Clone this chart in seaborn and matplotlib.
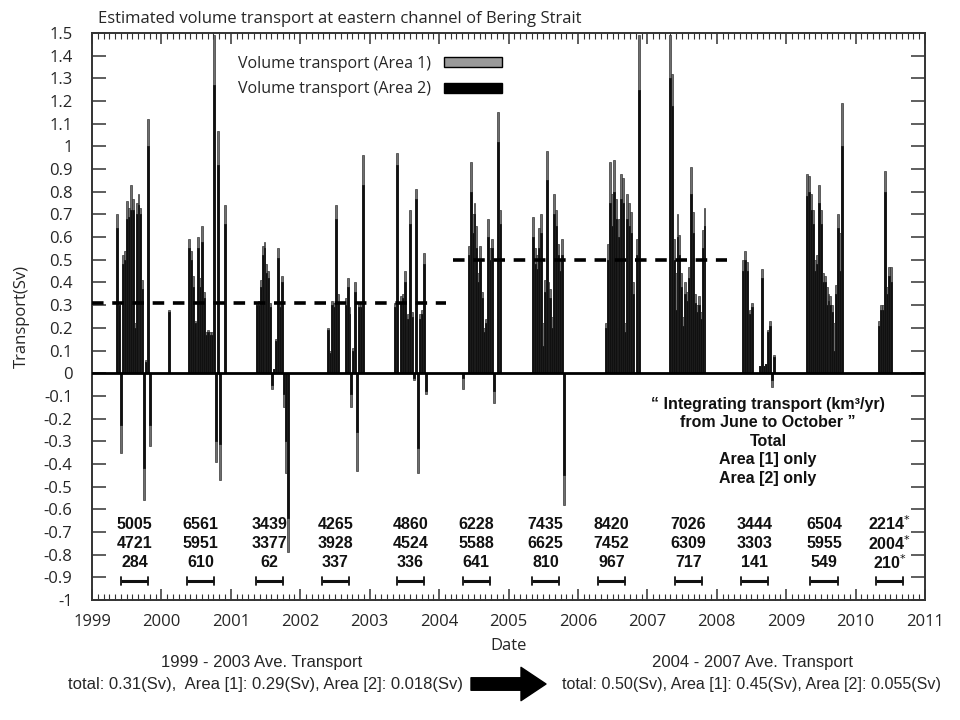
import numpy as np
import pandas as pd
import matplotlib
matplotlib.use("Agg")
import matplotlib.pyplot as plt
import seaborn as sns
from matplotlib.ticker import MultipleLocator, FuncFormatter
from matplotlib.patches import Patch

# ---------------- data ----------------
season_start = [1999.35, 2000.09, 2000.38, 2001.36, 2002.39, 2003.35, 2004.33,
                2005.34, 2006.39, 2007.31, 2008.36, 2009.29, 2010.33]
slot_years = 1 / 36  # sampling interval of the transport series (years)

total_1999 = [0.70, 0.31, -0.35, 0.52, 0.54, 0.76, 0.73, 0.83, 0.77, 0.22, 0.75, 0.79, 0.73, 0.41, -0.56, 0.06, 1.12, -0.32]
dark_1999 = [0.64, 0.30, -0.23, 0.48, 0.50, 0.68, 0.69, 0.72, 0.72, 0.20, 0.70, 0.74, 0.70, 0.37, -0.42, 0.05, 1.00, -0.23]
total_2000a = [0.28]
dark_2000a = [0.27]
total_2000 = [0.59, 0.54, 0.43, 0.23, 0.17, 0.60, 0.42, 0.65, 0.36, 0.18, 0.19, 0.18, 0.18, 1.49, -0.39, 1.07, -0.47, 0.0, 0.0, 0.74]
dark_2000 = [0.55, 0.50, 0.38, 0.22, 0.16, 0.55, 0.38, 0.58, 0.33, 0.17, 0.18, 0.17, 0.17, 1.27, -0.30, 0.92, -0.31, 0.0, 0.0, 0.66]
total_2001 = [0.31, 0.32, 0.41, 0.56, 0.58, 0.48, 0.45, 0.31, -0.07, 0.02, 0.15, 0.55, 0.31, 0.43, -0.15, -0.44, -0.79]
dark_2001 = [0.30, 0.30, 0.38, 0.52, 0.55, 0.44, 0.42, 0.29, -0.05, 0.02, 0.14, 0.51, 0.29, 0.40, -0.09, -0.30, -0.64]
total_2002 = [0.20, 0.10, 0.32, 0.31, 0.74, 0.35, 0.0, 0.0, 0.0, 0.33, 0.42, 0.29, -0.15, 0.11, 0.40, -0.43, 0.31, 0.31, 0.96]
dark_2002 = [0.19, 0.09, 0.30, 0.29, 0.68, 0.31, 0.0, 0.0, 0.0, 0.30, 0.38, 0.26, -0.09, 0.10, 0.36, -0.26, 0.29, 0.29, 0.83]
total_2003 = [0.31, 0.97, 0.0, 0.34, 0.35, 0.45, 0.23, 0.26, 0.72, 0.27, -0.03, 0.81, -0.44, 0.26, 0.28, 0.53, -0.09]
dark_2003 = [0.29, 0.92, 0.0, 0.31, 0.33, 0.40, 0.21, 0.24, 0.66, 0.25, -0.02, 0.77, -0.33, 0.24, 0.26, 0.48, -0.08]
total_2004 = [-0.07, 0.0, 0.0, 0.56, 0.93, 0.70, 0.75, 0.65, 0.44, 0.56, 0.36, 0.20, 0.24, 0.68, 0.55, 0.59, -0.13, 0.0, 1.15, 0.72]
dark_2004 = [-0.02, 0.0, 0.0, 0.52, 0.80, 0.62, 0.70, 0.55, 0.40, 0.50, 0.33, 0.18, 0.22, 0.60, 0.50, 0.55, -0.08, 0.0, 1.02, 0.66]
total_2005 = [0.69, 0.55, 0.52, 0.64, 0.70, 0.22, 0.41, 0.98, 0.40, 0.37, 0.25, 0.79, 0.72, 0.57, 0.50, 0.59, -0.58]
dark_2005 = [0.60, 0.48, 0.46, 0.55, 0.62, 0.12, 0.36, 0.85, 0.33, 0.33, 0.20, 0.70, 0.65, 0.52, 0.45, 0.52, -0.45]
total_2006 = [0.22, 0.57, 0.93, 0.79, 0.94, 0.77, 0.25, 0.68, 0.88, 0.86, 0.22, 0.79, 0.75, 0.71, 0.40, 0.0, 0.59, 1.49]
dark_2006 = [0.20, 0.50, 0.75, 0.65, 0.80, 0.68, 0.20, 0.60, 0.77, 0.75, 0.18, 0.68, 0.65, 0.62, 0.35, 0.0, 0.52, 1.25]
total_2007 = [1.49, 1.32, 0.59, 0.44, 0.70, 0.61, 0.44, 0.25, 0.40, 0.36, 0.47, 0.91, 0.71, 0.35, 0.30, 0.34, 0.27, 0.63, 0.73]
dark_2007 = [1.30, 1.18, 0.50, 0.28, 0.60, 0.52, 0.38, 0.21, 0.35, 0.32, 0.42, 0.79, 0.62, 0.31, 0.27, 0.30, 0.24, 0.55, 0.65]
total_2008 = [0.50, 0.54, 0.49, 0.23, 0.28, 0.31, 0.0, 0.0, 0.0, 0.03, 0.46, 0.03, 0.04, 0.19, 0.23, -0.06, 0.08]
dark_2008 = [0.45, 0.50, 0.45, 0.21, 0.26, 0.29, 0.0, 0.0, 0.0, 0.03, 0.42, 0.03, 0.04, 0.18, 0.21, -0.03, 0.07]
total_2009 = [0.88, 0.87, 0.79, 0.72, 0.50, 0.52, 0.83, 0.72, 0.44, 0.43, 0.38, 0.35, 0.34, 0.30, 0.22, 0.39, 0.70, 0.62, 1.19]
dark_2009 = [0.78, 0.80, 0.72, 0.66, 0.45, 0.48, 0.75, 0.66, 0.40, 0.40, 0.30, 0.32, 0.30, 0.27, 0.10, 0.35, 0.64, 0.45, 1.00]
total_2010 = [0.23, 0.30, 0.30, 0.89, 0.38, 0.47, 0.47]
dark_2010 = [0.21, 0.28, 0.28, 0.80, 0.35, 0.43, 0.40]

season_totals = [total_1999, total_2000a, total_2000, total_2001, total_2002, total_2003, total_2004,
                 total_2005, total_2006, total_2007, total_2008, total_2009, total_2010]
season_darks = [dark_1999, dark_2000a, dark_2000, dark_2001, dark_2002, dark_2003, dark_2004,
                dark_2005, dark_2006, dark_2007, dark_2008, dark_2009, dark_2010]

# integrated transport June-October (km3/yr)
integ_years = [1999, 2000, 2001, 2002, 2003, 2004, 2005, 2006, 2007, 2008, 2009, 2010]
integ_total = ["5005", "6561", "3439", "4265", "4860", "6228", "7435", "8420", "7026", "3444", "6504", "2214"]
integ_area1 = ["4721", "5951", "3377", "3928", "4524", "5588", "6625", "7452", "6309", "3303", "5955", "2004"]
integ_area2 = ["284", "610", "62", "337", "336", "641", "810", "967", "717", "141", "549", "210"]
integ_flag = [False] * 11 + [True]
bracket_start = [1999.42, 2000.37, 2001.36, 2002.31, 2003.39, 2004.34, 2005.34, 2006.29, 2007.40,
                 2008.35, 2009.35, 2010.30]
bracket_len = 0.39

# period averages
avg_periods = [(1999.0, 2004.1, 0.31), (2004.2, 2008.15, 0.50)]

# ---------------- build table ----------------
rows = []
for start, tot, dk in zip(season_start, season_totals, season_darks):
    for i, (t, d) in enumerate(zip(tot, dk)):
        rows.append((start + i * slot_years, t, d))
df = pd.DataFrame(rows, columns=["date", "total", "dark"])

# ---------------- figure ----------------
sns.set_theme(style="ticks")
plt.rcParams["font.family"] = ["Open Sans", "DejaVu Sans"]

fig = plt.figure(figsize=(9.6, 7.2), dpi=100)
ax = fig.add_axes([92 / 960, 1 - 600 / 720, 833 / 960, 567 / 720])

ax.bar(df["date"], df["total"], width=slot_years, align="edge", color="#6e6e6e",
       edgecolor="#2a2a2a", linewidth=0.45, zorder=2)
ax.bar(df["date"], df["dark"], width=slot_years, align="edge", color="#101010",
       edgecolor="#1c1c1c", linewidth=0.7, zorder=3)

ax.axhline(0, color="black", lw=2.0, zorder=4)
for x0, x1, v in avg_periods:
    ax.hlines(v, x0, x1, colors="black", linestyles=(0, (3.2, 2.4)), lw=2.6, zorder=5)

ax.set_xlim(1999, 2011)
ax.set_ylim(-1, 1.5)
ax.xaxis.set_major_locator(MultipleLocator(1))
ax.xaxis.set_minor_locator(MultipleLocator(1 / 12))
ax.yaxis.set_major_locator(MultipleLocator(0.1))
ax.yaxis.set_major_formatter(FuncFormatter(lambda v, p: "%g" % np.round(v, 1)))
ax.xaxis.set_major_formatter(FuncFormatter(lambda v, p: "%d" % round(v)))
ax.tick_params(axis="both", which="major", direction="in", top=True, right=True,
               length=8, width=1.1, color="#333333", labelsize=12)
ax.tick_params(axis="x", which="major", pad=10)
ax.tick_params(axis="x", which="minor", direction="in", top=True, bottom=True,
               length=4, width=0.8, color="#333333")
ax.tick_params(axis="y", which="major", length=10, pad=14)
for s in ax.spines.values():
    s.set_linewidth(1.4)
    s.set_color("#333333")

ax.set_xlabel("Date", fontsize=12, labelpad=6)
ax.set_ylabel("Transport(Sv)", fontsize=12, labelpad=10)
ax.set_title("Estimated volume transport at eastern channel of Bering Strait",
             fontsize=12, loc="left", x=6 / 833, pad=7)

# legend
handles = [Patch(facecolor="#9a9a9a", edgecolor="black", linewidth=1.0),
           Patch(facecolor="black", edgecolor="black", linewidth=1.0)]
leg = ax.legend(handles, ["Volume transport (Area 1)", "Volume transport (Area 2)"],
                loc="upper left", bbox_to_anchor=(132 / 833, 0.985), frameon=False,
                markerfirst=False, handlelength=3.6, handleheight=0.55,
                labelspacing=0.6, handletextpad=0.8, fontsize=11.5)

# integrated transport annotations
bold = dict(family=["Liberation Sans", "DejaVu Sans"], fontweight="bold", fontsize=11.5,
            ha="center", va="center", color="#111111")
for yr, tot, a1, a2, flag, bs in zip(integ_years, integ_total, integ_area1, integ_area2,
                                     integ_flag, bracket_start):
    xc = bs + bracket_len / 2
    star = "$^{*}$" if flag else ""
    ax.text(xc, -0.665, tot + star, **bold)
    ax.text(xc, -0.75, a1 + star, **bold)
    ax.text(xc, -0.835, a2 + star, **bold)
    ax.plot([bs, bs + bracket_len], [-0.917, -0.917], color="#111111", lw=2.2,
            solid_capstyle="butt", zorder=6)
    for xe in (bs, bs + bracket_len):
        ax.plot([xe, xe], [-0.898, -0.936], color="#111111", lw=1.3, zorder=6)

ax.text(2008.74, -0.30,
        "\u201c Integrating transport (km\u00b3/yr)\nfrom June to October \u201d\nTotal\nArea [1] only\nArea [2] only",
        ha="center", va="center", linespacing=1.3,
        family=["Liberation Sans", "DejaVu Sans"], fontweight="bold", fontsize=11.5,
        color="#111111")

# bottom summary
narrow = ["Liberation Sans Narrow", "Liberation Sans", "DejaVu Sans"]
fig.text(262 / 960, 1 - 663 / 720, "1999 - 2003 Ave. Transport", ha="center", va="center",
         family=narrow, fontsize=12)
fig.text(265 / 960, 1 - 684 / 720,
         "total: 0.31(Sv),  Area [1]: 0.29(Sv), Area [2]: 0.018(Sv)", ha="center",
         va="center", family=narrow, fontsize=12)
fig.text(752 / 960, 1 - 663 / 720, "2004 - 2007 Ave. Transport", ha="center", va="center",
         family=narrow, fontsize=12)
fig.text(752 / 960, 1 - 684 / 720,
         "total: 0.50(Sv), Area [1]: 0.45(Sv), Area [2]: 0.055(Sv)", ha="center",
         va="center", family=narrow, fontsize=11.6)
ax.annotate("", xy=(546, 720 - 684), xytext=(471, 720 - 684), xycoords="figure pixels",
            textcoords="figure pixels", annotation_clip=False,
            arrowprops=dict(arrowstyle="simple,head_length=0.9,head_width=1.2,tail_width=0.45",
                            color="black", mutation_scale=20, shrinkA=0, shrinkB=0))

fig.savefig("out.png", dpi=100)
